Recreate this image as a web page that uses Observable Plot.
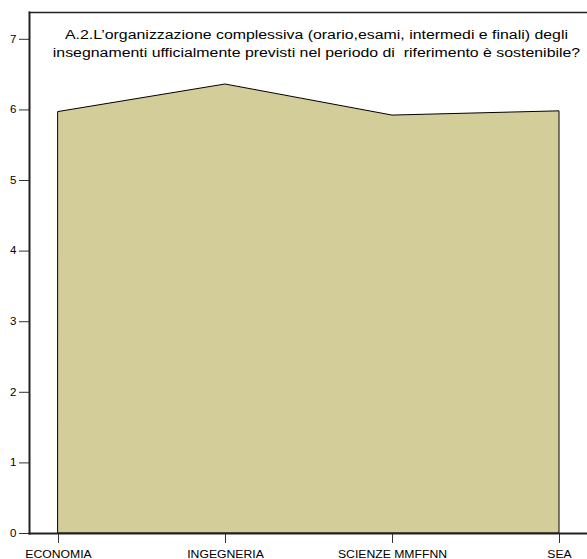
<!DOCTYPE html>
<html><head><meta charset="utf-8">
<script src="https://cdn.jsdelivr.net/npm/d3@7"></script>
<script src="https://cdn.jsdelivr.net/npm/@observablehq/plot@0.6"></script>
<style>body{margin:0;background:#fff}svg{display:block}</style>
</head><body><div id="chart"></div>
<script>
const categories = ["ECONOMIA", "INGEGNERIA", "SCIENZE MMFFNN", "SEA"];
const values = [5.97, 6.36, 5.92, 5.98];
const yTicks = [0, 1, 2, 3, 4, 5, 6, 7];
const titleLines = [
  "A.2.L\u2019organizzazione complessiva (orario,esami, intermedi e finali) degli",
  "insegnamenti ufficialmente previsti nel periodo di  riferimento è sostenibile?"
];
const data = categories.map((c, i) => ({cat: c, v: values[i]}));

const chart = Plot.plot({
  width: 587, height: 559,
  marginLeft: 29, marginRight: -1, marginTop: 12, marginBottom: 26,
  style: {fontFamily: "'Liberation Sans', Arial, sans-serif", fontSize: "10px", color: "#000", background: "#fff"},
  x: {type: "point", domain: categories, range: [57, 560], padding: 0, label: null},
  y: {domain: [0, 7.38], label: null},
  marks: [
    Plot.areaY(data, {x: "cat", y: "v", fill: "#d3ce99", stroke: "#000", strokeWidth: 1}),
    Plot.axisY({ticks: yTicks, tickSize: 10, tickPadding: 3, stroke: "#333", fontSize: 10}),
    Plot.axisX({tickSize: 10, tickPadding: 7, stroke: "#333", fontSize: 10}),
    Plot.frame({anchor: "left", stroke: "#222", strokeWidth: 2}),
    Plot.frame({anchor: "bottom", stroke: "#222", strokeWidth: 2}),
    Plot.frame({anchor: "top", stroke: "#222", strokeWidth: 1.5}),
    Plot.text([titleLines.join("\n")], {frameAnchor: "top", dx: 7.5, dy: 13, lineAnchor: "top", fontSize: 12.5, lineHeight: 1.48, fill: "#000"})
  ]
});
document.getElementById("chart").appendChild(chart);

// the reference text is horizontally wide; stretch glyphs to match
function stretch(sel, k) {
  chart.querySelectorAll(sel).forEach(t => {
    const spans = t.querySelectorAll("tspan");
    const targets = spans.length ? Array.from(spans) : [t];
    targets.forEach(el => {
      const L = el.getComputedTextLength();
      el.setAttribute("textLength", L * k);
      el.setAttribute("lengthAdjust", "spacingAndGlyphs");
    });
  });
}
chart.querySelectorAll('g[aria-label="text"] text').forEach(t => t.style.whiteSpace = "pre");
stretch('g[aria-label="text"] text', 1.27);
stretch('g[aria-label="x-axis tick label"] text', 1.22);
stretch('g[aria-label="y-axis tick label"] text', 1.15);
</script></body></html>
